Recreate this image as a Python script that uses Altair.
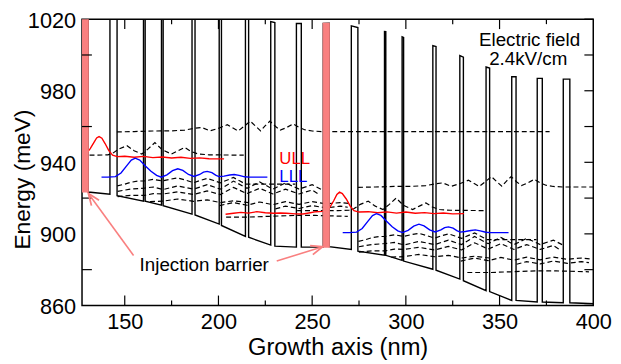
import altair as alt
import pandas as pd

FONT = "Liberation Sans"
SALMON = "#F98080"

# ---------------- axes ----------------
X_LABELS = [150, 200, 250, 300, 350, 400]
X_MAJOR_TICKS = [150, 200, 250, 300, 350]
X_MINOR_TICKS = [175, 225, 275, 325, 375]
Y_LABELS = [860, 900, 940, 980, 1020]
Y_TICKS_LEFT = [880, 920, 960, 1000]
Y_TICKS_RIGHT = [860, 880, 900, 920, 940, 960, 980, 1000, 1020]

# ---------------- conduction band (layer structure) ----------------
BARRIER_START = [126.0, 142.1, 160.0, 169.6, 185.9, 200.4, 214.4, 227.9, 241.6, 255.9,
                 270.9, 288.6, 298.0, 314.4, 328.8, 342.8, 356.5, 370.1, 384.0]
BARRIER_END = [130.5, 145.9, 160.9, 170.5, 187.5, 201.6, 216.1, 230.1, 244.2, 259.1,
               274.4, 289.3, 298.8, 316.1, 330.7, 344.7, 358.8, 372.8, 387.5]
WELL_E_BEFORE = [923.6, 922.2, 918.3, 916.1, 911.0, 905.5, 898.6, 893.7, 892.6, 892.6,
                 891.3, 888.1, 885.2, 880.2, 874.7, 868.3, 862.8, 861.9, 861.5]
WELL_E_AFTER = [923.4, 921.3, 918.3, 915.7, 910.6, 904.7, 898.1, 893.1, 892.6, 892.8,
                890.3, 888.0, 884.8, 879.7, 873.8, 867.7, 862.8, 861.9, 861.5]
BARRIER_HEIGHT = 125.0
BAND_END_X = 401.0
BAND_END_E = 860.9
INJECTION_BARRIERS = [0, 9]

# ---------------- wavefunctions ----------------
ULL1_X = [127.0, 129.5, 131.5, 133.5, 135.0, 136.3, 137.8, 139.5, 141.5, 143.5, 146, 150, 155,
          160, 165, 170, 175, 180, 185, 190, 195, 203.0]
ULL1_E = [944.0, 945.0, 947.5, 951.0, 953.6, 954.4, 953.5, 950.5, 946.5, 944.0, 943.2, 943.4,
          942.8, 943.3, 942.6, 943.0, 942.4, 942.8, 942.2, 942.5, 942.0, 941.9]
ULL2_X = [203.8, 208, 212, 216, 220.5, 225, 229.3, 233, 236.3, 241, 245.1, 249, 252.1, 255.5,
          257.5, 259.5, 261.5, 263.2, 264.6, 266.1, 268.2, 270.3, 272.3, 275, 280, 285, 290,
          295, 300, 305, 310, 315, 320, 325, 331.0]
ULL2_E = [911.0, 911.5, 912.0, 911.6, 912.4, 911.8, 911.5, 911.7, 911.5, 911.2, 911.1, 911.8,
          912.4, 912.6, 913.3, 915.0, 918.5, 922.0, 923.3, 922.5, 919.5, 915.5, 913.0, 912.2,
          912.4, 911.8, 912.3, 911.6, 912.2, 911.5, 911.9, 911.3, 911.7, 911.2, 911.3]
LLL1_X = [137.6, 141, 145, 148, 151, 153.5, 155.6, 158, 161, 164, 167, 169.5, 172.5, 175.5,
          178.3, 181, 184, 187, 190, 192, 194, 196.5, 198.5, 200.2, 203, 206, 208.4, 211,
          214, 216.3, 226.1]
LLL1_E = [931.7, 931.7, 932.0, 934.0, 938.0, 941.2, 942.3, 941.3, 938.0, 935.0, 932.7, 931.7,
          933.0, 935.3, 936.4, 935.5, 933.2, 932.1, 933.2, 934.5, 934.9, 934.2, 932.8, 932.0,
          932.3, 932.9, 933.2, 932.7, 931.9, 931.7, 931.7]
LLL2_X = [266.3, 269.7, 273.7, 276.7, 279.7, 282.2, 284.3, 286.7, 289.7, 292.7, 295.7, 298.2,
          301.2, 304.2, 307.0, 309.7, 312.7, 315.7, 318.7, 320.7, 322.7, 325.2, 327.2, 328.9,
          331.7, 334.7, 337.1, 339.7, 342.7, 345.0, 354.8]
LLL2_E = [900.7, 900.7, 901.0, 903.0, 907.0, 910.2, 911.3, 910.3, 907.0, 904.0, 901.7, 900.7,
          902.0, 904.3, 905.4, 904.5, 902.2, 901.1, 902.2, 903.5, 903.9, 903.2, 901.8, 901.0,
          901.3, 901.9, 902.2, 901.7, 900.9, 900.7, 900.7]

D1_X = [145.8, 155, 165, 175, 182, 187, 191, 195.5, 200, 204.7, 208, 210.5, 213.5, 217.0, 220,
        222.5, 225, 227.5, 230.5, 233, 236.5, 239.8, 243, 246, 250, 255, 376.7]
D1_E = [957.0, 957.2, 957.5, 957.6, 958.0, 959.0, 959.5, 957.6, 959.0, 961.0, 959.0, 957.5,
        960.0, 963.0, 960.0, 957.6, 960.5, 963.0, 960.0, 958.0, 959.5, 961.5, 959.5, 958.2,
        957.5, 957.2, 957.2]
D1B_X = [274.5, 283.7, 293.7, 303.7, 310.7, 315.7, 319.7, 324.2, 328.7, 333.4, 336.7, 339.2,
         342.2, 345.7, 348.7, 351.2, 353.7, 356.2, 359.2, 361.7, 365.2, 368.5, 371.7, 374.7,
         378.7, 383.7, 400.0]
D1B_E = [926.0, 926.2, 926.5, 926.6, 927.0, 928.0, 928.5, 926.6, 928.0, 930.0, 928.0, 926.5,
         929.0, 932.0, 929.0, 926.6, 929.5, 932.0, 929.0, 927.0, 928.5, 930.5, 928.5, 927.2,
         926.5, 926.2, 926.2]
D2_X = [127.0, 135, 141, 143.5, 147, 151.2, 155, 159.1, 162.5, 166.1, 170, 174.9, 178.5, 182.0,
        185.5, 189.2, 195, 203, 213.5]
D2_E = [944.0, 944.0, 944.2, 945.0, 947.5, 949.3, 946.5, 944.6, 947.5, 951.0, 947.0, 944.6,
        946.5, 948.3, 946.0, 944.6, 944.2, 944.1, 944.0]
D2B_X = [242.0, 263.7, 269.7, 272.2, 275.7, 279.9, 283.7, 287.8, 291.2, 294.8, 298.7, 303.6,
         307.2, 310.7, 314.2, 317.9, 323.7, 331.7, 342.2]
D2B_E = [913.0, 913.0, 913.2, 914.0, 916.5, 918.3, 915.5, 913.6, 916.5, 920.0, 916.0, 913.6,
         915.5, 917.3, 915.0, 913.6, 913.2, 913.1, 913.0]
L1_X = [146.0, 150, 153, 157, 160.5, 165.2, 170.0, 174, 178.2, 182, 186.7, 190, 194, 197.5,
        201, 204.5, 208, 211.5, 214.5, 241.0]
L1_E = [926.8, 927.8, 928.8, 929.5, 929.6, 930.5, 929.6, 930.5, 931.3, 930.2, 928.6, 929.8,
        931.0, 929.8, 928.5, 930.0, 931.5, 929.5, 927.8, 927.8]
L1B_X = [274.7, 278.7, 281.7, 285.7, 289.2, 293.9, 298.7, 302.7, 306.9, 310.7, 315.4, 318.7,
         322.7, 326.2, 329.7, 333.2, 336.7, 340.2, 343.2, 369.7]
L1B_E = [895.8, 896.8, 897.8, 898.5, 898.6, 899.5, 898.6, 899.5, 900.3, 899.2, 897.6, 898.8,
         900.0, 898.8, 897.5, 899.0, 900.5, 898.5, 896.8, 896.8]
L2_X = [146.2, 153, 160.5, 165.2, 170.5, 178.2, 186.7, 194, 201, 208, 215.2, 222, 229, 235.8,
        243, 250, 255.0]
L2_E = [923.8, 925.0, 925.6, 926.2, 924.8, 926.8, 925.0, 927.5, 925.0, 929.5, 925.5, 929.0,
        925.0, 928.5, 925.0, 927.5, 924.8]
L2B_X = [274.9, 281.7, 289.2, 293.9, 299.2, 306.9, 315.4, 322.7, 329.7, 336.7, 343.9, 350.7,
         357.7, 364.5, 371.7, 378.7, 383.7]
L2B_E = [892.8, 894.0, 894.6, 895.2, 893.8, 895.8, 894.0, 896.5, 894.0, 898.5, 894.5, 898.0,
         894.0, 897.5, 894.0, 896.5, 893.8]
L3_X = [146.2, 153, 160.5, 165.2, 170.5, 178.2, 186.7, 194, 201, 208, 215.2, 222, 229, 235.8,
        243, 250, 253.0]
L3_E = [920.8, 921.5, 921.5, 922.5, 922.3, 923.5, 922.0, 924.0, 922.0, 926.0, 922.5, 925.5,
        922.3, 925.0, 922.3, 924.5, 922.5]
L3B_X = [274.9, 281.7, 289.2, 293.9, 299.2, 306.9, 315.4, 322.7, 329.7, 336.7, 343.9, 350.7,
         357.7, 364.5, 371.7, 378.7, 381.7]
L3B_E = [889.8, 890.5, 890.5, 891.5, 891.3, 892.5, 891.0, 893.0, 891.0, 895.0, 891.5, 894.5,
         891.3, 894.0, 891.3, 893.5, 891.5]
L4_X = [163.5, 170.5, 178.2, 186.7, 194, 201, 208, 216.0]
L4_E = [918.0, 918.3, 919.5, 918.2, 919.0, 917.5, 918.5, 917.5]
L4B_X = [292.2, 299.2, 306.9, 315.4, 322.7, 329.7, 336.7, 344.7]
L4B_E = [887.0, 887.3, 888.5, 887.2, 888.0, 886.5, 887.5, 886.5]
L5_X = [200.6, 208, 215.2, 222, 229, 235.8, 243, 250, 257.5, 265, 270.0]
L5_E = [915.8, 917.5, 916.0, 917.8, 916.3, 918.0, 916.5, 918.0, 916.8, 917.5, 917.0]
L5B_X = [329.3, 336.7, 343.9, 350.7, 357.7, 364.5, 371.7, 378.7, 386.2, 393.7, 398.7]
L5B_E = [884.8, 886.5, 885.0, 886.8, 885.3, 887.0, 885.5, 887.0, 885.8, 886.5, 886.0]
L6_X = [204.1, 216.4, 226.9, 240.9, 251.5, 269.0]
L6_E = [909.4, 909.4, 909.8, 910.3, 910.3, 909.8]
L6B_X = [332.8, 345.1, 355.6, 369.6, 380.2, 397.7]
L6B_E = [878.4, 878.4, 878.8, 879.3, 879.3, 878.8]
L7_X = [230.4, 235.8, 243, 250, 257.5, 265, 269.0]
L7_E = [914.0, 915.5, 914.2, 915.8, 914.5, 915.5, 914.9]
L7B_X = [359.1, 364.5, 371.7, 378.7, 386.2, 393.7, 397.7]
L7B_E = [883.0, 884.5, 883.2, 884.8, 883.5, 884.5, 883.9]

# ---------------- annotations ----------------
ANNOT_TEXT = ["Electric field", "2.4kV/cm", "Injection barrier"]
ANNOT_X = [366.0, 365.3, 192.4]
ANNOT_E = [1005.3, 994.3, 879.3]
ULL_LABEL = ("ULL", 232.5, 939.1)
LLL_LABEL = ("LLL", 232.5, 929.0)
ARROW_TAIL_X = [154.7, 231.1]
ARROW_TAIL_E = [887.9, 884.8]
ARROW_TIP_X = [130.6, 255.6]
ARROW_TIP_E = [922.6, 892.8]

# ---------------- build tables ----------------
XS = alt.Scale(domain=[127.2, 400], nice=False, zero=False)
YS = alt.Scale(domain=[860, 1020], nice=False, zero=False)

bx, be = [], []
for s, e, eb, ea in zip(BARRIER_START, BARRIER_END, WELL_E_BEFORE, WELL_E_AFTER):
    bx += [s, s, e, e]
    be += [eb, eb + BARRIER_HEIGHT, ea + BARRIER_HEIGHT, ea]
bx.append(BAND_END_X)
be.append(BAND_END_E)
band_df = pd.DataFrame({"x": bx, "E": be, "i": range(len(bx))})

inj_df = pd.DataFrame({
    "x": [BARRIER_START[k] for k in INJECTION_BARRIERS],
    "x2": [BARRIER_END[k] for k in INJECTION_BARRIERS],
    "E": [min(WELL_E_BEFORE[k], WELL_E_AFTER[k]) for k in INJECTION_BARRIERS],
    "E2": [(WELL_E_BEFORE[k] + WELL_E_AFTER[k]) / 2 + BARRIER_HEIGHT for k in INJECTION_BARRIERS],
})


def states_df(states):
    rows = []
    for name, (xx, ee) in states.items():
        for i, (a, b) in enumerate(zip(xx, ee)):
            rows.append({"state": name, "x": a, "E": b, "i": i})
    return pd.DataFrame(rows)


dashed_df = states_df({
    "D1": (D1_X, D1_E), "D1b": (D1B_X, D1B_E), "D2": (D2_X, D2_E), "D2b": (D2B_X, D2B_E),
    "L1": (L1_X, L1_E), "L1b": (L1B_X, L1B_E), "L2": (L2_X, L2_E), "L2b": (L2B_X, L2B_E),
    "L3": (L3_X, L3_E), "L3b": (L3B_X, L3B_E), "L4": (L4_X, L4_E), "L4b": (L4B_X, L4B_E),
    "L5": (L5_X, L5_E), "L5b": (L5B_X, L5B_E), "L6": (L6_X, L6_E), "L6b": (L6B_X, L6B_E),
    "L7": (L7_X, L7_E), "L7b": (L7B_X, L7B_E),
})
ull_df = states_df({"ULL1": (ULL1_X, ULL1_E), "ULL2": (ULL2_X, ULL2_E)})
lll_df = states_df({"LLL1": (LLL1_X, LLL1_E), "LLL2": (LLL2_X, LLL2_E)})

X_AXIS = alt.Axis(values=X_LABELS, format="d", title="Growth axis (nm)", labelPadding=6,
                  labelFlush=False, titleY=50, titleBaseline="alphabetic")
Y_AXIS = alt.Axis(values=Y_LABELS, format="d", title="Energy (meV)", labelPadding=6.5, labelOffset=1,
                  titleX=-53.5, titleY=162, titleBaseline="alphabetic", titleAngle=270,
                  titleFontSize=23)


def ex(field="x"):
    return alt.X(f"{field}:Q", scale=XS, axis=X_AXIS)


def ey(field="E"):
    return alt.Y(f"{field}:Q", scale=YS, axis=Y_AXIS)


band = alt.Chart(band_df).mark_line(color="black", strokeWidth=1.4, clip=True).encode(
    x=ex(), y=ey(), order="i:Q")

inj = alt.Chart(inj_df).mark_rect(color=SALMON, stroke=SALMON, strokeWidth=1.2, clip=True).encode(
    x=ex("x"), x2="x2:Q", y=ey("E"), y2="E2:Q")

dashed = alt.Chart(dashed_df).mark_line(color="black", strokeWidth=1.2, strokeDash=[5, 3],
                                        clip=True).encode(
    x=ex(), y=ey(), detail="state:N", order="i:Q")
ull = alt.Chart(ull_df).mark_line(color="#FF0000", strokeWidth=1.4, clip=True).encode(
    x=ex(), y=ey(), detail="state:N", order="i:Q")
lll = alt.Chart(lll_df).mark_line(color="#0000FF", strokeWidth=1.4, clip=True).encode(
    x=ex(), y=ey(), detail="state:N", order="i:Q")

W, H = 518, 290
tick_layers = [
    alt.Chart(pd.DataFrame({"x": X_MAJOR_TICKS})).mark_rule(color="black", strokeWidth=1.2).encode(
        x=ex(), y=alt.value(H - 10), y2=alt.value(H)),
    alt.Chart(pd.DataFrame({"x": X_MAJOR_TICKS})).mark_rule(color="black", strokeWidth=1.2).encode(
        x=ex(), y=alt.value(0), y2=alt.value(10)),
    alt.Chart(pd.DataFrame({"x": X_MINOR_TICKS})).mark_rule(color="black", strokeWidth=1.2).encode(
        x=ex(), y=alt.value(H - 5), y2=alt.value(H)),
    alt.Chart(pd.DataFrame({"x": X_MINOR_TICKS})).mark_rule(color="black", strokeWidth=1.2).encode(
        x=ex(), y=alt.value(0), y2=alt.value(5)),
    alt.Chart(pd.DataFrame({"E": Y_TICKS_LEFT})).mark_rule(color="black", strokeWidth=1.2).encode(
        y=ey(), x=alt.value(0), x2=alt.value(10)),
    alt.Chart(pd.DataFrame({"E": Y_TICKS_RIGHT})).mark_rule(color="black", strokeWidth=1.2).encode(
        y=ey(), x=alt.value(W - 9), x2=alt.value(W)),
]

annot = alt.Chart(pd.DataFrame({"t": ANNOT_TEXT, "x": ANNOT_X, "E": ANNOT_E})).mark_text(
    font=FONT, fontSize=19, color="black", align="center", baseline="alphabetic").encode(
    x=ex(), y=ey(), text="t:N")
ull_txt = alt.Chart(pd.DataFrame({"t": [ULL_LABEL[0]], "x": [ULL_LABEL[1]], "E": [ULL_LABEL[2]]})).mark_text(
    font=FONT, fontSize=17, color="#FF0000", align="left", baseline="alphabetic").encode(
    x=ex(), y=ey(), text="t:N")
lll_txt = alt.Chart(pd.DataFrame({"t": [LLL_LABEL[0]], "x": [LLL_LABEL[1]], "E": [LLL_LABEL[2]]})).mark_text(
    font=FONT, fontSize=17, color="#0000FF", align="left", baseline="alphabetic").encode(
    x=ex(), y=ey(), text="t:N")

arrow_rows = []
for k in range(len(ARROW_TAIL_X)):
    arrow_rows.append({"a": k, "i": 0, "x": ARROW_TAIL_X[k], "E": ARROW_TAIL_E[k]})
    arrow_rows.append({"a": k, "i": 1, "x": ARROW_TIP_X[k], "E": ARROW_TIP_E[k]})
arrows = alt.Chart(pd.DataFrame(arrow_rows)).mark_line(color=SALMON, strokeWidth=1.6).encode(
    x=ex(), y=ey(), detail="a:N", order="i:Q")

HEAD = "M-0.4,1L0,0L0.4,1"
heads = []
for k, ang in zip(range(len(ARROW_TIP_X)), [324, 73]):
    heads.append(alt.Chart(pd.DataFrame({"x": [ARROW_TIP_X[k]], "E": [ARROW_TIP_E[k]]})).mark_point(
        shape=HEAD, size=560, filled=False, stroke=SALMON, strokeWidth=1.8, angle=ang, opacity=1).encode(
        x=ex(), y=ey()))

chart = alt.layer(band, dashed, ull, lll, inj, *tick_layers, annot, ull_txt, lll_txt, arrows, *heads).properties(
    width=W, height=H,
    autosize=alt.AutoSizeParams(type="none"),
    padding={"left": 75, "top": 9, "right": 20, "bottom": 57},
).configure_view(stroke="black", strokeWidth=1.5).configure_axis(
    labelFont=FONT, titleFont=FONT, labelFontSize=22, titleFontSize=24,
    labelColor="black", titleColor="black", titleFontWeight="normal",
    grid=False, domain=False, ticks=False)

chart.save("out.html", embed_options={"renderer": "svg", "actions": False})
